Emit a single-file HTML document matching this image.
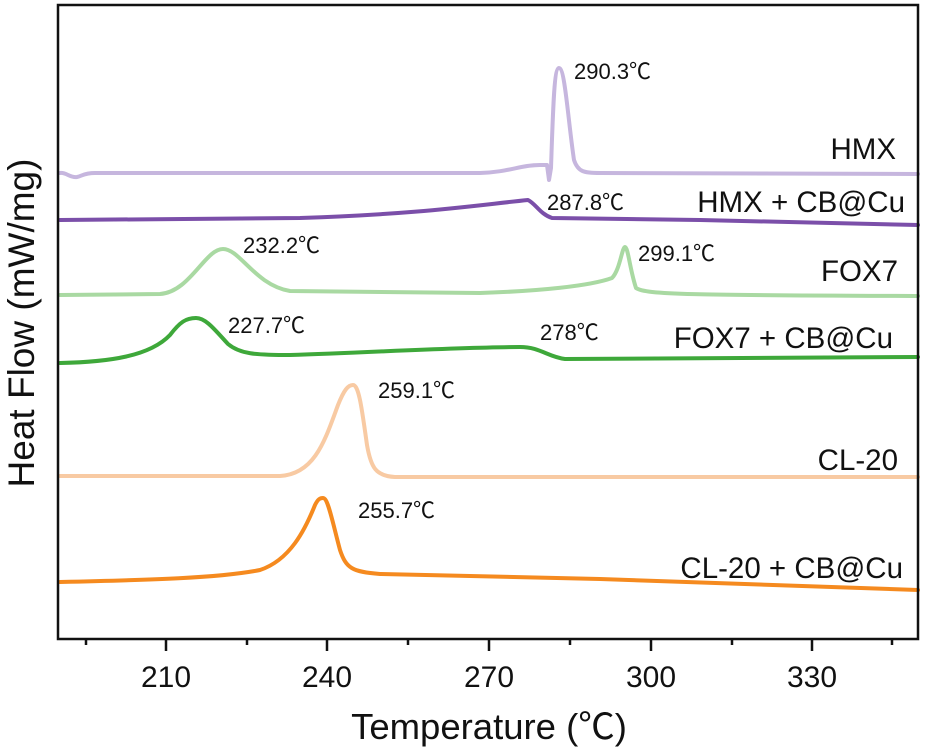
<!DOCTYPE html>
<html><head><meta charset="utf-8"><style>
html,body{margin:0;padding:0;background:#fff;}
svg{display:block;}
text{font-family:"Liberation Sans","Noto Sans CJK SC",sans-serif;fill:#111;}
</style></head><body>
<svg width="925" height="754" viewBox="0 0 925 754" xmlns="http://www.w3.org/2000/svg">
<g fill="none" stroke-width="4" stroke-linejoin="round" stroke-linecap="round">
<path stroke="#c6b6de" d="M60,173 C66,172 70,178 77,177 C82,176 84,173 95,173 L480,173 C510,172 520,165 540,165 L547,165 L549,180 L551,168 C553,110 554,68 559,68 C565,68 568,120 574,160 C578,172 584,173 600,173 L918,174"/>
<path stroke="#7b4fa9" d="M60,220 L300,218 C420,214 470,206 528,200 C536,204 540,214 552,218 L700,220 L918,225"/>
<path stroke="#a9d9a2" d="M60,295 L160,294 C190,292 205,249 223,249 C240,249 255,285 290,291 L480,293 C540,291 590,286 612,278 C620,270 622,247 625,247 C628,247 630,270 636,288 C645,295 700,295 918,296"/>
<path stroke="#3ea83a" d="M60,363 C110,362 150,356 170,335 C180,322 186,318 196,318 C206,318 215,330 228,344 C240,354 255,355 290,355 C380,352 460,347 520,347 C540,347 548,357 565,359 L918,357"/>
<path stroke="#f8caa3" d="M60,476 L280,476 C315,474 325,440 338,405 C344,390 348,385 353,385 C359,385 362,410 367,445 C371,468 376,476 395,477 L918,477"/>
<path stroke="#f58a1f" d="M60,582 C150,580 220,578 260,570 C290,560 305,530 315,505 C318,499 320,498 323,498 C328,498 332,520 340,550 C346,568 352,572 380,574 L600,579 L918,590"/>
</g>
<rect x="58" y="5" width="860" height="634" fill="none" stroke="#111" stroke-width="2.5"/>
<g stroke="#111" stroke-width="2.5">
<line x1="86" y1="639" x2="86" y2="645"/>
<line x1="166" y1="639" x2="166" y2="651"/>
<line x1="247" y1="639" x2="247" y2="645"/>
<line x1="327" y1="639" x2="327" y2="651"/>
<line x1="408" y1="639" x2="408" y2="645"/>
<line x1="489" y1="639" x2="489" y2="651"/>
<line x1="570" y1="639" x2="570" y2="645"/>
<line x1="651" y1="639" x2="651" y2="651"/>
<line x1="732" y1="639" x2="732" y2="645"/>
<line x1="812" y1="639" x2="812" y2="651"/>
<line x1="892" y1="639" x2="892" y2="645"/>
</g>
<g font-size="30" text-anchor="middle">
<text x="166" y="687">210</text>
<text x="327" y="687">240</text>
<text x="489" y="687">270</text>
<text x="651" y="687">300</text>
<text x="812" y="687">330</text>
</g>
<text x="489" y="739" font-size="36.5" text-anchor="middle">Temperature (℃)</text>
<text transform="translate(34,323) rotate(-90)" font-size="37" text-anchor="middle">Heat Flow  (mW/mg)</text>
<g font-size="22">
<text x="574" y="79">290.3℃</text>
<text x="547" y="210">287.8℃</text>
<text x="243" y="253">232.2℃</text>
<text x="638" y="261">299.1℃</text>
<text x="228" y="333">227.7℃</text>
<text x="540" y="340">278℃</text>
<text x="378" y="398">259.1℃</text>
<text x="358" y="518">255.7℃</text>
</g>
<g font-size="29.5" text-anchor="end">
<text x="896" y="159">HMX</text>
<text x="905" y="212">HMX + CB@Cu</text>
<text x="898" y="281">FOX7</text>
<text x="893" y="348">FOX7 + CB@Cu</text>
<text x="898" y="470">CL-20</text>
<text x="903" y="578">CL-20 + CB@Cu</text>
</g>
</svg>
</body></html>
